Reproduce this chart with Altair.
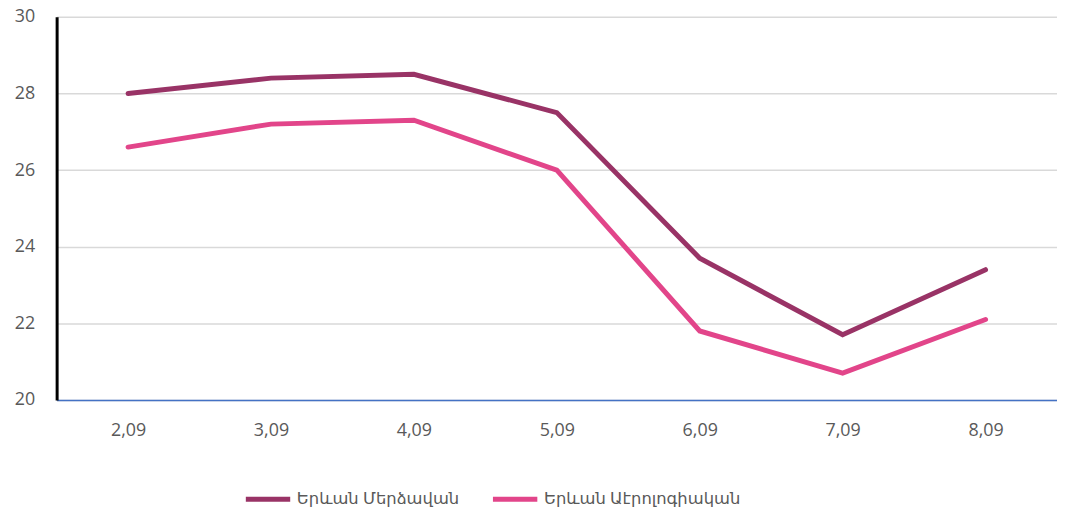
import altair as alt
import pandas as pd

dates = ["2,09", "3,09", "4,09", "5,09", "6,09", "7,09", "8,09"]
series_names = ["Երևան Մերձավան", "Երևան Աէրոլոգիական"]
merdzavan = [28.0, 28.4, 28.5, 27.5, 23.7, 21.7, 23.4]
aerologia = [26.6, 27.2, 27.3, 26.0, 21.8, 20.7, 22.1]
colors = ["#993366", "#E2458A"]

rows = []
for d, v in zip(dates, merdzavan):
    rows.append({"date": d, "value": v, "series": series_names[0]})
for d, v in zip(dates, aerologia):
    rows.append({"date": d, "value": v, "series": series_names[1]})
df = pd.DataFrame(rows)

font = "Open Sans, DejaVu Sans, sans-serif"

chart = alt.Chart(df).mark_line(strokeWidth=5, strokeCap="round", strokeJoin="miter").encode(
    x=alt.X("date:O", sort=dates, scale=alt.Scale(type="point", padding=0.5),
            axis=alt.Axis(title=None, labelAngle=0, domainColor="#4472C4", domainWidth=1.5,
                          ticks=False, labelPadding=22, labelFontSize=18,
                          labelColor="#595959", labelFont=font, grid=False)),
    y=alt.Y("value:Q", scale=alt.Scale(domain=[20, 30], nice=False, zero=False),
            axis=alt.Axis(title=None, values=[20, 22, 24, 26, 28, 30], domainColor="#000000",
                          domainWidth=3, ticks=False, labelPadding=22, labelFontSize=18,
                          labelColor="#595959", labelFont=font, gridColor="#d9d9d9",
                          gridWidth=1.5)),
    color=alt.Color("series:N", sort=series_names,
                    scale=alt.Scale(domain=series_names, range=colors),
                    legend=alt.Legend(title=None, orient="none", direction="horizontal",
                                      legendX=188, legendY=461,
                                      symbolType="stroke", symbolSize=2000, symbolStrokeWidth=5,
                                      labelFontSize=16.5, labelColor="#595959", labelFont=font,
                                      labelLimit=400,
                                      columnPadding=23, labelOffset=4)),
).properties(
    width=1008, height=386,
    padding={"left": 49, "top": 7, "right": 0, "bottom": 110},
    autosize=alt.AutoSizeParams(type="none"),
).configure_view(stroke=None)

chart.save("out.html", embed_options={"renderer": "svg", "actions": False})
